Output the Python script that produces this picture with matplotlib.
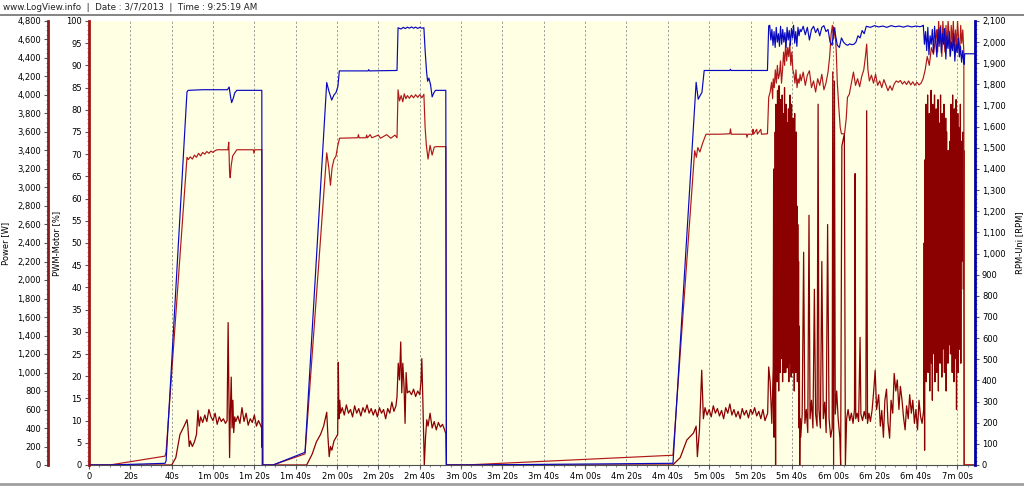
import numpy as np
import matplotlib
matplotlib.use("Agg")
import matplotlib.pyplot as plt
from matplotlib.ticker import MultipleLocator, FuncFormatter
from matplotlib.lines import Line2D

# ---------------- data (time in seconds) ----------------
pwm_points = [
    (0, 0), (10, 0), (36.8, 2.0), (37.3, 3), (47.4, 69.3), (48, 68.8), (49, 69.4), (50, 68.9), (51, 69.8),
    (52, 69.3), (53, 70.2), (54, 69.6), (55, 70.4), (56, 70.0), (57, 70.6), (58, 70.2), (59, 70.7), (60, 70.4),
    (61, 70.8), (62, 71.0), (66.5, 71.0), (67.2, 71.0), (67.6, 72.7), (68.0, 66), (68.3, 64.7), (68.8, 67.5),
    (69.5, 69.6), (70.5, 70.3), (71.5, 71.0), (79.5, 71.0), (79.8, 70.2), (80.2, 71.0), (83.6, 71.0), (84.0, 0),
    (89, 0), (104.5, 2.5), (115, 70.3), (116, 67), (116.8, 63), (117.6, 67), (118.5, 68.8), (119.5, 69.6),
    (120.3, 71.8), (121.2, 73.6), (130, 73.7), (130.3, 74.4), (130.7, 73.7), (134, 73.7), (134.3, 74.3),
    (134.7, 73.7), (136, 74.4), (136.8, 73.7), (140, 74.3), (141, 73.6), (144, 74.4), (146, 73.6), (148, 74.3),
    (149, 73.7), (149.5, 84.5), (150.2, 82), (151, 83.2), (151.8, 81.8), (152.5, 83.6), (153.3, 82.5),
    (154, 83.2), (155, 82.6), (156, 83.3), (157, 82.7), (158, 83.4), (159, 82.8), (160, 83.4), (161, 82.7),
    (162, 83.5), (162.6, 76), (163.2, 72), (164, 68.9), (165, 72), (166, 69.8), (167, 71.6), (168, 71.7),
    (172.6, 71.7), (172.9, 0),
    (182, 0), (282.5, 2.2), (293, 70.8), (293.8, 69.3), (294.5, 71.5), (295.5, 70.5), (297, 72.7), (298.5, 74.5),
    (305, 74.5), (310, 74.6), (310.3, 75.7), (310.7, 74.5), (318, 74.5), (318.3, 73.8), (318.7, 74.5),
    (321, 74.5), (321.2, 75.6), (321.5, 74.5), (323, 75.6), (323.3, 74.5), (325, 75.6), (325.3, 74.5),
    (328.2, 74.6), (328.8, 82.8), (329.5, 84), (330.2, 86.2), (330.7, 82.5),
    (344.5, 86.5), (345.5, 88.5), (346.5, 85.5), (347.5, 87.8), (348.5, 88.8), (349.5, 85), (350.5, 86.5),
    (351.5, 84), (352.5, 87), (353.5, 85.5), (354.5, 88), (355.5, 84.5), (356.5, 86), (357.5, 88.5),
    (358.3, 92), (359, 97), (359.6, 99), (360.2, 96), (360.8, 98.5), (361.5, 93), (362, 86), (362.8, 80),
    (363.4, 76), (364, 74.6), (365.5, 74.6), (366.3, 78), (366.9, 82.8), (367.8, 83.5), (368.8, 86),
    (369.8, 88.5), (370.8, 85.5), (371.8, 87), (372.8, 85.2), (373.8, 87.5), (374.8, 89), (375.6, 92),
    (376.2, 94.8), (376.8, 89), (377.5, 86.5), (378.5, 87.8), (379.5, 86), (380.5, 88), (381.5, 85.5),
    (382.5, 86.5), (383.5, 85), (384.5, 86.8), (385.5, 85.6), (386.5, 84.3), (387.5, 85.4), (388.5, 84.4),
    (389.5, 85.8), (390.5, 86.5), (391.5, 86.2), (392.5, 86.6), (393.5, 85.8), (394.5, 86.4), (395.5, 85.7),
    (396.5, 86.5), (397.5, 85.6), (398.5, 86.3), (399.5, 85.5), (400.5, 86.2), (401.5, 85.6), (402.5, 86.0),
    (403.5, 87), (404.5, 89), (405.5, 92), (406.5, 90), (407.5, 94), (408.5, 92.5), (409.5, 96),
    (423.3, 0), (428.6, 0),
]
pwm_burst1_span = (331.0, 344.0)
pwm_burst1 = [87, 85, 89, 86, 90, 87, 88, 91, 86, 89, 93, 90, 95, 91, 94, 92, 95, 90, 93, 89, 88, 86, 89, 85,
              87, 86, 88]
pwm_burst2_span = (410.0, 423.2)
pwm_burst2 = [98, 93, 100, 95, 99, 92, 100, 96, 93, 99, 94, 100, 97, 92, 99, 95, 100, 93, 98, 94, 100, 96, 92,
              99, 95, 98, 93]

rpm_points = [
    (0, 0), (10, 0), (36.8, 8), (37.3, 20), (47.4, 1765), (48, 1772), (55, 1775), (67, 1775), (67.8, 1788),
    (68.5, 1740), (69, 1714), (69.8, 1735), (70.5, 1760), (71.5, 1772), (83.6, 1772), (83.8, 0),
    (89, 0), (104.5, 60), (115, 1809), (116, 1770), (117.4, 1726), (118.5, 1750), (119.5, 1762), (120.4, 1790),
    (121.1, 1864), (135, 1864), (135.3, 1870), (135.6, 1864), (149, 1866), (149.5, 2068), (151, 2062),
    (152, 2070), (153, 2064), (154, 2071), (155, 2066), (156, 2072), (157, 2066), (158, 2071), (159, 2065),
    (160, 2070), (161, 2066), (162, 2068), (162.6, 1960), (163.3, 1860), (163.8, 1815), (164.4, 1830),
    (165.2, 1800), (166, 1741), (166.8, 1760), (167.6, 1772), (172.6, 1772), (172.9, 0),
    (182, 0), (282.5, 8), (293.7, 1810), (294.7, 1730), (295.5, 1745), (296.5, 1762), (297.6, 1866),
    (310, 1866), (310.3, 1872), (310.6, 1866), (328.2, 1866), (328.8, 2077),
    (344.5, 2050), (345.5, 2075), (346.5, 2035), (347.5, 2070), (348.5, 2010), (349.5, 2060), (350.5, 2075),
    (351.5, 2045), (352.5, 2065), (353.5, 2030), (354.5, 2070), (355.5, 2078), (356.5, 2050), (357.5, 2060),
    (358.5, 2000), (359.5, 1985), (360.3, 2070), (361, 2040), (362, 1985), (363, 1975), (364, 2020),
    (365, 2000), (366, 1990), (367, 1985), (368, 1992), (369, 1988), (370, 1990), (371, 2000), (372, 2030),
    (373, 2020), (374, 2055), (375, 2040), (376, 2075), (378, 2070), (380, 2078), (382, 2072), (384, 2076),
    (386, 2070), (388, 2078), (390, 2073), (392, 2076), (394, 2071), (396, 2077), (398, 2072), (400, 2076),
    (402, 2073), (403.3, 2077),
    (423.4, 1895), (423.6, 1945), (428.6, 1945),
]
rpm_burst1_span = (329.3, 344.0)
rpm_burst1 = [2080, 2010, 2060, 1985, 2050, 1975, 2070, 2000, 2040, 1980, 2075, 1990, 2060, 2000, 2045, 1975,
              2070, 2010, 2055, 1985, 2065, 2020, 2080, 1995, 2050, 1980, 2070, 2030, 2060]
rpm_burst2_span = (403.6, 423.2)
rpm_burst2 = [2080, 1990, 2050, 1960, 2070, 1940, 2030, 1990, 2060, 1950, 2075, 2000, 1930, 2060, 1980, 2070,
              1950, 2040, 1990, 2065, 1920, 2030, 1970, 2050, 1935, 2000, 1960, 2040, 1910, 1990, 1950, 2020,
              1930, 1980, 1905, 1960, 1900]

power_points = [
    (0, 0), (40, 0), (42, 80), (44, 330), (46, 420), (47.4, 490), (47.8, 420), (48.5, 200), (49, 260), (50, 200),
    (51, 250), (52, 330), (52.7, 590), (53.3, 420), (54, 520), (55, 460), (56, 540), (57, 470), (58, 600),
    (59, 520), (60, 480), (61, 560), (62, 440), (63, 520), (64, 470), (65, 500), (66, 450), (66.8, 480),
    (67.3, 1540), (67.6, 900), (68.0, 80), (68.4, 600), (68.8, 950), (69.2, 400), (69.6, 700), (70, 350),
    (70.5, 520), (71, 470), (72, 530), (73, 450), (74, 620), (75, 470), (76, 560), (77, 430), (78, 500),
    (79, 460), (80, 540), (81, 420), (82, 480), (83, 430), (83.5, 400), (83.7, 190), (83.9, 2000),
    (84.0, 1680), (84.1, 0),
    (105.3, 0), (108, 120), (110, 250), (112, 330), (113.5, 420), (115, 570), (115.6, 300), (116.2, 90),
    (116.8, 200), (117.5, 160), (118.5, 260), (119.5, 300), (120.3, 330), (120.6, 1110), (120.9, 500),
    (121.3, 700), (121.7, 560), (122.5, 620), (123.5, 540), (124.5, 650), (125.5, 560), (126.5, 600),
    (127.5, 520), (128.5, 640), (129.5, 560), (130.5, 610), (131.5, 530), (132.5, 620), (133.5, 570),
    (134.5, 650), (135.5, 560), (136.5, 610), (137.5, 540), (138.5, 600), (139.5, 520), (140.5, 620),
    (141.5, 560), (142.5, 600), (143.5, 500), (144.5, 610), (145.5, 560), (146.5, 680), (147.5, 580),
    (148.5, 640), (149, 740), (149.6, 1100), (150.2, 920), (150.8, 1330), (151.3, 780), (151.8, 1100),
    (152.4, 850), (152.9, 450), (153.4, 1000), (154, 780), (155, 800), (156, 760), (157, 820), (158, 740),
    (159, 800), (160, 760), (160.6, 900), (161, 1150), (161.5, 700), (162, 200), (162.2, 0), (162.8, 300),
    (163.4, 490), (164, 420), (165, 560), (166, 400), (167, 470), (168, 380), (169, 460), (170, 410),
    (171, 440), (172, 380), (172.6, 340), (172.9, 0),
    (282.4, 0), (286, 80), (289.2, 270), (292.4, 345), (293.7, 420), (294.3, 90), (295.3, 380), (296.4, 1025),
    (297.2, 500), (298, 620), (299, 540), (300, 600), (301, 520), (302, 640), (303, 560), (304, 610),
    (305, 530), (306, 590), (307, 500), (308, 620), (309, 560), (310, 660), (311, 540), (312, 600), (313, 520),
    (314, 580), (315, 500), (316, 610), (317, 540), (318, 590), (319, 510), (320, 600), (321, 550), (322, 620),
    (323, 530), (324, 580), (325, 500), (326, 600), (327, 480), (328.3, 560), (328.8, 1060), (329.5, 900),
    (330.3, 450), (330.7, 800),
    (344.3, 300), (345, 550), (345.7, 2300), (346.3, 450), (347, 600), (347.7, 350), (348.3, 2700), (348.8, 500),
    (349.5, 700), (350.2, 400), (350.9, 1900), (351.5, 550), (352.2, 420), (352.7, 3900), (353.1, 600),
    (353.8, 400), (354.5, 2200), (355.2, 500), (355.9, 680), (356.6, 350), (357.3, 2600), (358, 500),
    (358.8, 300), (359.5, 400), (359.8, 4250), (360.2, 0), (360.6, 4150), (361, 550), (361.7, 800),
    (362.4, 500), (363.2, 300), (363.6, 0), (364.2, 3450), (365.4, 3580), (365.9, 0), (366.5, 500),
    (367.2, 600), (368, 480), (368.8, 560), (369.6, 450), (370.3, 600), (370.6, 3150), (370.9, 500),
    (371.6, 560), (372.3, 470), (373, 1380), (373.4, 550), (374.2, 480), (375, 580), (375.8, 500),
    (376.2, 3830), (376.6, 450), (377.3, 560), (378, 470), (378.8, 590), (379.6, 800), (380.3, 1025),
    (381, 600), (382, 760), (382.8, 420), (383.5, 590), (384.3, 300), (385, 700), (385.8, 820), (386.5, 460),
    (387.3, 290), (388, 700), (388.8, 560), (389.5, 990), (390.3, 800), (391, 920), (391.8, 600), (392.5, 850),
    (393.3, 700), (394, 520), (394.8, 380), (395.5, 640), (396.3, 500), (397, 760), (397.8, 560), (398.5, 700),
    (399.3, 450), (400, 600), (400.8, 380), (401.5, 700), (402.3, 520), (403, 450),
    (423.4, 0), (428.6, 0),
]
power_burst1_span = (331.0, 344.0)
power_burst1 = [1060, 3200, 300, 2800, 900, 3600, 0, 3900, 1200, 3400, 900, 4050, 1100, 3700, 800, 4100, 1300,
                3000, 1000, 3950, 1150, 3500, 1250, 4000, 900, 3300, 1400, 3800, 1000, 4080, 1100, 3600, 1000,
                3900, 1200, 2900, 1050, 3700, 1300, 3850, 900, 3500, 1200, 4000, 1100, 3300, 950, 3900, 1250,
                3600, 1000, 3750, 1150, 3400, 800, 3800, 1200, 3100, 1000, 3600, 1300, 2800, 900, 2600, 1100,
                2200, 400, 1500, 0, 500]
power_burst2_span = (403.8, 423.2)
power_burst2 = [600, 2400, 160, 3300, 1500, 3900, 900, 3600, 1300, 4000, 1000, 3500, 1600, 3800, 800, 3300,
                1400, 4050, 1100, 3700, 700, 3900, 1500, 3400, 1200, 4000, 900, 3600, 1650, 3850, 1000, 3200,
                1300, 3950, 800, 3700, 1500, 3400, 1100, 4000, 1400, 3600, 950, 3800, 1250, 3300, 1600, 3900,
                1000, 3500, 1300, 3750, 800, 3600, 1450, 3200, 1100, 3400, 1700, 3000, 1300, 3500, 1200, 3900,
                1500, 3700, 1000, 4000, 1350, 3300, 900, 3850, 1600, 3550, 1150, 3950, 600, 3400, 1400, 3800,
                1000, 3650, 1250, 3200, 1500, 3900, 1100, 3500, 2200, 3300, 2800, 3600, 1900, 3400]


def assemble(points, bursts):
    t = [p[0] for p in points]
    v = [p[1] for p in points]
    for span, vals in bursts:
        t += list(np.linspace(span[0], span[1], len(vals)))
        v += list(vals)
    order = np.argsort(t, kind="stable")
    return np.asarray(t)[order], np.asarray(v)[order]


pwm_t, pwm_v = assemble(pwm_points, [(pwm_burst1_span, pwm_burst1), (pwm_burst2_span, pwm_burst2)])
rpm_t, rpm_v = assemble(rpm_points, [(rpm_burst1_span, rpm_burst1), (rpm_burst2_span, rpm_burst2)])
pow_t, pow_v = assemble(power_points, [(power_burst1_span, power_burst1), (power_burst2_span, power_burst2)])

# ---------------- figure ----------------
plt.rcParams['font.family'] = ['DejaVu Sans']
W, H = 1024, 487
fig = plt.figure(figsize=(W / 100, H / 100), dpi=100)
fig.patch.set_facecolor('white')

left_px, right_px, top_px, bot_px = 89, 975, 21, 465
ax = fig.add_axes([left_px / W, 1 - bot_px / H, (right_px - left_px) / W, (bot_px - top_px) / H])
ax_pwm = ax.twinx()
ax_rpm = ax.twinx()

FS = 6
dark_red = '#8B1A1A'
pwm_spine = '#A31515'
blue_spine = '#0000A8'

# host axes = power
ax.set_facecolor('#FFFFE4')
ax.set_xlim(0, 428.6)
ax.set_ylim(0, 4800)
ax.plot(pow_t, pow_v, color='#8B0000', lw=0.9, zorder=3)
ax.spines['left'].set_position(('axes', (48 - left_px) / (right_px - left_px)))
ax.spines['left'].set_color(dark_red)
ax.spines['left'].set_linewidth(2)
ax.spines['top'].set_visible(False)
ax.spines['right'].set_visible(False)
ax.spines['bottom'].set_color('#505050')
ax.yaxis.set_major_locator(MultipleLocator(200))
ax.yaxis.set_minor_locator(MultipleLocator(50))
ax.yaxis.set_major_formatter(FuncFormatter(lambda v, p: f"{int(round(v)):,}"))
ax.tick_params(axis='y', which='major', length=3, width=0.8, labelsize=FS, pad=2, color='#555555')
ax.tick_params(axis='y', which='minor', length=1.5, width=0.6, color='#777777')
ax.set_ylabel('Power [W]', fontsize=FS)
ax.yaxis.set_label_coords((10 - left_px) / (right_px - left_px), 0.5)


def fmt_time(v, p):
    s = int(round(v))
    if s == 0:
        return '0'
    if s < 60:
        return f"{s}s"
    return f"{s // 60}m {s % 60:02d}s"


ax.xaxis.set_major_locator(MultipleLocator(20))
ax.xaxis.set_minor_locator(MultipleLocator(5))
ax.xaxis.set_major_formatter(FuncFormatter(fmt_time))
ax.tick_params(axis='x', which='major', length=3, width=0.8, labelsize=FS, pad=2, color='#555555')
ax.tick_params(axis='x', which='minor', length=1.5, width=0.6, color='#777777')
ax.grid(axis='x', which='major', color='#8A8A8A', linestyle=(0, (2.5, 2.5)), linewidth=0.6)
ax.set_axisbelow(True)

# PWM axes
ax_pwm.set_ylim(0, 100)
ax_pwm.plot(pwm_t, pwm_v, color='#B01818', lw=0.85, zorder=3)
ax_pwm.yaxis.tick_left()
ax_pwm.yaxis.set_label_position('left')
for s in ('right', 'top', 'bottom'):
    ax_pwm.spines[s].set_visible(False)
ax_pwm.spines['left'].set_visible(True)
ax_pwm.spines['left'].set_color(pwm_spine)
ax_pwm.spines['left'].set_linewidth(2)
ax_pwm.yaxis.set_major_locator(MultipleLocator(5))
ax_pwm.yaxis.set_minor_locator(MultipleLocator(1))
ax_pwm.tick_params(axis='y', which='major', length=3, width=0.8, labelsize=FS, pad=2, color='#555555')
ax_pwm.tick_params(axis='y', which='minor', length=1.5, width=0.6, color='#777777')
ax_pwm.set_ylabel('PWM-Motor [%]', fontsize=FS)
ax_pwm.yaxis.set_label_coords((61 - left_px) / (right_px - left_px), 0.5)

# RPM axes
ax_rpm.set_ylim(0, 2100)
ax_rpm.plot(rpm_t, rpm_v, color='#0808C0', lw=0.85, zorder=3)
for s in ('left', 'top', 'bottom'):
    ax_rpm.spines[s].set_visible(False)
ax_rpm.spines['right'].set_color(blue_spine)
ax_rpm.spines['right'].set_linewidth(2)
ax_rpm.yaxis.set_major_locator(MultipleLocator(100))
ax_rpm.yaxis.set_minor_locator(MultipleLocator(20))
ax_rpm.yaxis.set_major_formatter(FuncFormatter(lambda v, p: f"{int(round(v)):,}"))
ax_rpm.tick_params(axis='y', which='major', length=3, width=0.8, labelsize=FS, pad=2, color='#555555')
ax_rpm.tick_params(axis='y', which='minor', length=1.5, width=0.6, color='#777777')
ax_rpm.set_ylabel('RPM-Uni [RPM]', fontsize=FS, rotation=90)
ax_rpm.yaxis.set_label_coords((1015 - left_px) / (right_px - left_px), 0.5)

# header and frame lines
fig.text(3 / W, 1 - 7 / H, 'www.LogView.info  |  Date : 3/7/2013  |  Time : 9:25:19 AM',
         fontsize=6.3, va='center', ha='left', color='#222222')
fig.add_artist(Line2D([0, 1], [1 - 14.5 / H, 1 - 14.5 / H], transform=fig.transFigure, color='#707070', lw=1.2))
fig.add_artist(Line2D([0, 1], [1 - 484 / H, 1 - 484 / H], transform=fig.transFigure, color='#A0A0A0', lw=2))

fig.savefig('out.png', dpi=100)
